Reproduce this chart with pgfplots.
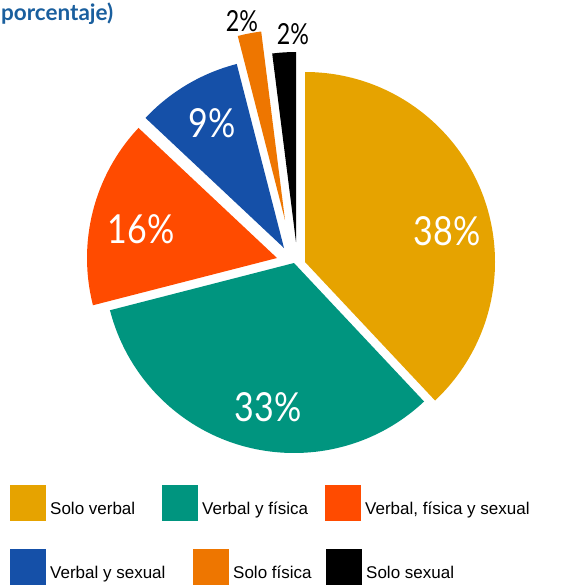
\documentclass[border=0pt]{standalone}
\usepackage{fontspec}
\setmainfont{Lato}
\newfontfamily\legfont{Liberation Sans}
\usepackage{pgfplots}
\pgfplotsset{compat=1.18}
\definecolor{cgold}{HTML}{E6A300}
\definecolor{cteal}{HTML}{00957F}
\definecolor{cred}{HTML}{FF4B00}
\definecolor{cblue}{HTML}{1550A8}
\definecolor{corange}{HTML}{EE7600}
\definecolor{ctitle}{HTML}{1A5F9E}
% #1 cumulative start (%), #2 value (%), #3,#4 vertex (px), #5 colour
\newcommand\slice[5]{%
  \pgfmathsetmacro\sa{90-3.6*#1}%
  \pgfmathsetmacro\sb{90-3.6*(#1+#2)}%
  \edef\temp{\noexpand\fill[#5] (axis cs:#3,#4) -- ++(\sa:190pt) arc[start angle=\sa, end angle=\sb, radius=190pt] -- cycle;}%
  \temp}
\newcommand\legitem[4]{% x, y(top of square), colour, text
  \edef\temp{\noexpand\fill[#3] (axis cs:#1,#2) rectangle ++(36pt,-36pt);}\temp
  \node[anchor=base west, inner sep=0pt, font=\legfont\fontsize{17}{17}\selectfont] at (axis cs:#1+40,#2+29) {#4};}
\begin{document}
\begin{tikzpicture}
\begin{axis}[
  width=563pt, height=587pt, scale only axis,
  xmin=0, xmax=563, ymin=0, ymax=587, y dir=reverse,
  hide axis, clip=false]
% slices: start, value, vertex x, vertex y, colour
\slice{0}{38}{305}{262}{cgold}
\slice{38}{33}{294}{263}{cteal}
\slice{71}{16}{277}{258}{cred}
\slice{87}{9}{284}{248}{cblue}
\slice{96}{2}{285}{220}{corange}
\slice{98}{2}{296}{242}{black}
% labels
\begin{scope}[every node/.style={inner sep=0pt, font=\fontsize{40}{40}\selectfont}]
\node[white] at (axis cs:447,231) {\scalebox{0.85}[1]{38\%}};
\node[white] at (axis cs:268,407) {\scalebox{0.85}[1]{33\%}};
\node[white] at (axis cs:141,229) {\scalebox{0.85}[1]{16\%}};
\node[white] at (axis cs:212,123) {\scalebox{0.85}[1]{9\%}};
\end{scope}
\node[inner sep=0pt, font=\fontsize{29}{29}\selectfont] at (axis cs:242,21) {\scalebox{0.8}[1]{2\%}};
\node[inner sep=0pt, font=\fontsize{29}{29}\selectfont] at (axis cs:293,34) {\scalebox{0.8}[1]{2\%}};
% title
\node[anchor=base west, inner sep=0pt, text=ctitle, font=\bfseries\fontsize{22.5}{22.5}\selectfont] at (axis cs:1,20) {porcentaje)};
% legend
\legitem{10}{485}{cgold}{Solo verbal}
\legitem{162}{485}{cteal}{Verbal y física}
\legitem{325}{485}{cred}{Verbal, física y sexual}
\legitem{10}{549}{cblue}{Verbal y sexual}
\legitem{193}{549}{corange}{Solo física}
\legitem{326}{549}{black}{Solo sexual}
\end{axis}
\pgfresetboundingbox
\useasboundingbox (current axis.south west) rectangle (current axis.north east);
\end{tikzpicture}
\end{document}
